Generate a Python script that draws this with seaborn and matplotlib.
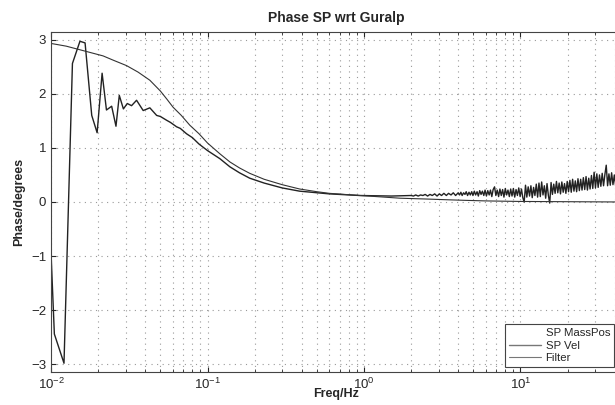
import numpy as np
import matplotlib
matplotlib.use("Agg")
import matplotlib.pyplot as plt
import seaborn as sns

# SP Vel, low-frequency part
vel_freq = [0.01, 0.0105, 0.0121, 0.0137, 0.0153, 0.0165, 0.0182, 0.0197, 0.0212,
            0.0226, 0.0244, 0.026, 0.0273, 0.029, 0.0307, 0.0327, 0.0352, 0.0388,
            0.0428, 0.0473, 0.05, 0.0548, 0.058, 0.0634, 0.067, 0.0735, 0.08, 0.0883,
            0.1, 0.12, 0.139, 0.16, 0.186, 0.23, 0.3, 0.388, 0.5, 0.6, 0.75, 0.94,
            1.2, 1.5]
vel_phase = [-0.95, -2.44, -2.98, 2.56, 2.97, 2.94, 1.6, 1.28, 2.38,
             1.70, 1.77, 1.40, 1.97, 1.72, 1.82, 1.78, 1.88, 1.69,
             1.74, 1.60, 1.58, 1.51, 1.47, 1.39, 1.36, 1.26, 1.19, 1.07,
             0.95, 0.80, 0.65, 0.54, 0.44, 0.35, 0.26, 0.20, 0.17, 0.15, 0.135, 0.12,
             0.115, 0.11]

# SP Vel, noisy high-frequency part
noise_freq = [2.0, 2.07, 2.14, 2.22, 2.3, 2.38, 2.46, 2.55, 2.64, 2.73, 2.83, 2.93,
              3.03, 3.13, 3.24, 3.36, 3.47, 3.6, 3.72, 3.85,
              4.0, 4.08, 4.16, 4.24, 4.33, 4.42, 4.5, 4.59, 4.69, 4.78, 4.88,
              4.97, 5.07, 5.17, 5.28, 5.38, 5.49, 5.6, 5.71, 5.83, 5.94,
              6.06, 6.18, 6.31, 6.43, 6.56, 6.69, 6.83, 6.96, 7.1, 7.25,
              7.39, 7.54, 7.69, 7.84, 8.0, 8.16, 8.32, 8.49, 8.66, 8.83,
              9.01, 9.19, 9.37, 9.56, 9.75, 9.95, 10.15, 10.35, 10.56, 10.77,
              10.98, 11.2, 11.43, 11.66, 11.89, 12.13, 12.37, 12.62, 12.87, 13.13,
              13.39, 13.66, 13.93, 14.21, 14.49, 14.78, 15.08, 15.38, 15.69, 16.0,
              16.32, 16.65, 16.98, 17.32, 17.67, 18.02, 18.38, 18.75, 19.12, 19.51,
              19.9, 20.29, 20.7, 21.11, 21.54, 21.97, 22.41, 22.85, 23.31, 23.78,
              24.25, 24.74, 25.23, 25.74, 26.25, 26.78, 27.31, 27.86, 28.42, 28.98,
              29.56, 30.15, 30.76, 31.37, 32.0, 32.64, 33.29, 33.96, 34.64, 35.33,
              36.04, 36.76, 37.49, 38.24, 39.01, 39.79, 40.58, 41.39, 42.22, 43.07,
              43.93, 44.8]
noise_phase = [0.12, 0.11, 0.13, 0.11, 0.13, 0.12, 0.14, 0.11, 0.14, 0.12, 0.15, 0.11,
               0.15, 0.12, 0.16, 0.12, 0.16, 0.13, 0.17, 0.12,
               0.17, 0.13, 0.18, 0.12, 0.17, 0.14, 0.19, 0.12, 0.18, 0.13, 0.19,
               0.12, 0.20, 0.13, 0.19, 0.11, 0.21, 0.14, 0.20, 0.12, 0.22,
               0.11, 0.21, 0.13, 0.22, 0.10, 0.23, 0.28, 0.12, 0.22, 0.10,
               0.24, 0.12, 0.23, 0.09, 0.25, 0.13, 0.22, 0.10, 0.24, 0.11,
               0.25, 0.09, 0.23, 0.12, 0.26, 0.10, 0.24, 0.08, 0.0, 0.31,
               0.09, 0.28, 0.11, 0.30, 0.08, 0.27, 0.12, 0.33, 0.09, 0.35,
               0.10, 0.37, 0.13, 0.30, 0.07, 0.34, 0.12, -0.02, 0.36, 0.14,
               0.33, 0.16, 0.38, 0.17, 0.35, 0.15, 0.37, 0.18, 0.34, 0.16,
               0.38, 0.19, 0.40, 0.18, 0.42, 0.20, 0.39, 0.19, 0.43, 0.21,
               0.42, 0.22, 0.45, 0.23, 0.47, 0.22, 0.44, 0.24, 0.49, 0.25,
               0.55, 0.26, 0.52, 0.27, 0.50, 0.29, 0.53, 0.30, 0.51, 0.68,
               0.30, 0.52, 0.31, 0.54, 0.32, 0.50, 0.30, 0.53, 0.33, 0.52,
               0.31, 0.50]

# Filter response
filt_freq = [0.01, 0.0125, 0.0169, 0.0215, 0.025, 0.0304, 0.036, 0.0428, 0.05, 0.055,
             0.0603, 0.068, 0.077, 0.0883, 0.1, 0.12, 0.139, 0.16, 0.186, 0.23, 0.3,
             0.388, 0.5, 0.6, 0.75, 0.94, 1.2, 1.7, 2.5, 3.5, 4.5, 6.0, 10.0, 44.8]
filt_phase = [2.93, 2.88, 2.78, 2.70, 2.62, 2.52, 2.40, 2.25, 2.05, 1.90,
              1.75, 1.60, 1.42, 1.26, 1.09, 0.89, 0.74, 0.63, 0.53, 0.42, 0.32,
              0.24, 0.19, 0.16, 0.14, 0.12, 0.10, 0.07, 0.055, 0.04, 0.03, 0.02, 0.01, 0.0]

sns.set_style("ticks")
plt.rcParams["font.family"] = ["Liberation Sans", "DejaVu Sans"]

fig = plt.figure(figsize=(6.15, 4.05), dpi=100)
ax = fig.add_axes([0.083, 0.0815, 0.927, 0.8395])

ax.plot([], [], color="white", lw=0.8, label="SP MassPos")
sns.lineplot(x=vel_freq + noise_freq, y=vel_phase + noise_phase, ax=ax,
             color="#222222", lw=1.0, label="SP Vel", sort=False)
sns.lineplot(x=filt_freq, y=filt_phase, ax=ax, color="#333333", lw=0.8,
             label="Filter", sort=False)

ax.set_xscale("log")
ax.set_xlim(0.01, 44)
ax.set_ylim(-np.pi, np.pi)
ax.set_yticks([-3, -2, -1, 0, 1, 2, 3])

dots = (0, (1, 4))
ax.grid(True, which="major", axis="both", ls=dots, color="#999999", lw=0.8)
ax.grid(True, which="minor", axis="x", ls=dots, color="#999999", lw=0.8)
ax.tick_params(which="both", direction="in", top=True, right=True, labelsize=9.5)
for sp in ax.spines.values():
    sp.set_color("#444444")
    sp.set_linewidth(0.8)

ax.set_title("Phase SP wrt Guralp", fontsize=10, fontweight="bold", pad=7)
ax.set_xlabel("Freq/Hz", fontsize=9, fontweight="bold", labelpad=-3)
ax.set_ylabel("Phase/degrees", fontsize=9, fontweight="bold", labelpad=4)

leg = ax.legend(loc="lower right", bbox_to_anchor=(614 / 615, 38 / 405),
                bbox_transform=fig.transFigure, borderaxespad=0, fontsize=8.2,
                fancybox=False, framealpha=1, edgecolor="#444444",
                handlelength=2.8, handletextpad=0.4, borderpad=0.35,
                labelspacing=0.2)
leg.get_frame().set_linewidth(0.8)
for line in leg.get_lines()[1:]:
    line.set_color("#777777")

fig.savefig("out.png", dpi=100)
